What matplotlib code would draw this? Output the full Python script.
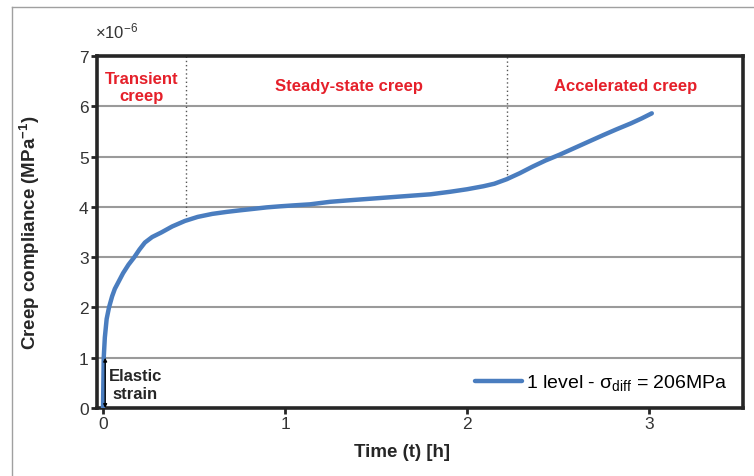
import matplotlib
matplotlib.use("Agg")
import matplotlib.pyplot as plt
from matplotlib.lines import Line2D

plt.rcParams['font.family'] = ['Liberation Sans', 'DejaVu Sans']
plt.rcParams['mathtext.fontset'] = 'custom'
plt.rcParams['mathtext.rm'] = 'Liberation Sans'
plt.rcParams['mathtext.it'] = 'Liberation Sans:italic'
plt.rcParams['mathtext.bf'] = 'Liberation Sans:bold'

# Creep compliance (x1e-6 MPa^-1) versus time (h)
time_h = [0.0, 0.004, 0.01, 0.02, 0.033, 0.05, 0.065, 0.084, 0.11, 0.14, 0.172,
          0.20, 0.23, 0.27, 0.32, 0.38, 0.45, 0.52, 0.60, 0.68,
          0.75, 0.826, 0.90, 0.97, 1.05, 1.137, 1.247, 1.35, 1.5, 1.65, 1.8,
          1.907, 2.0, 2.09, 2.15, 2.218, 2.29, 2.36, 2.43, 2.51, 2.59, 2.676,
          2.75, 2.82, 2.90, 2.96, 3.015]
compliance = [0.0, 1.0, 1.4, 1.77, 2.0, 2.22, 2.37, 2.5, 2.68, 2.85, 3.0,
              3.15, 3.29, 3.40, 3.49, 3.61, 3.72, 3.80, 3.86, 3.90,
              3.93, 3.96, 3.99, 4.01, 4.03, 4.05, 4.10, 4.13, 4.17, 4.21, 4.25,
              4.30, 4.35, 4.41, 4.46, 4.55, 4.67, 4.80, 4.92, 5.04, 5.17, 5.31,
              5.43, 5.54, 5.66, 5.76, 5.86]

stage_labels = ["Transient\ncreep", "Steady-state creep", "Accelerated creep"]
stage_label_x = [0.21, 1.35, 2.87]
stage_bounds = [0.456, 2.218]
stage_bound_c = [3.73, 4.55]

elastic_t = 0.012
elastic_c = 1.0

legend_label = r"1 level - $\mathrm{σ_{diff}}$ = 206MPa"

line_color = "#4a7dbf"
red = "#e5202a"
dark = "#262626"

fig = plt.figure(figsize=(7.54, 4.77), dpi=100)
ax = fig.add_axes([97 / 754, 68 / 477, 646 / 754, 352 / 477])

# light frame round the figure (left and top edges)
fig.add_artist(Line2D([12 / 754, 12 / 754], [0, 1 - 8 / 477], transform=fig.transFigure,
                      color="#a0a0a0", lw=1.0))
fig.add_artist(Line2D([12 / 754, 1], [1 - 8 / 477, 1 - 8 / 477], transform=fig.transFigure,
                      color="#a0a0a0", lw=1.0))

ax.set_xlim(-0.033, 3.516)
ax.set_ylim(0, 7)
ax.set_yticks(range(0, 8))
ax.set_xticks([0, 1, 2, 3])

for y in range(1, 7):
    ax.axhline(y, color="#9a9a9a", lw=1.5, zorder=1)

for tb, cb in zip(stage_bounds, stage_bound_c):
    ax.vlines(tb, cb, 7, colors="#555555", linestyles=(0, (1, 2)), lw=1.0, zorder=1)

ax.plot(time_h, compliance, color=line_color, lw=3.2, solid_capstyle="round",
        solid_joinstyle="round", label=legend_label, zorder=3)

ax.annotate("", xy=(elastic_t, elastic_c), xytext=(elastic_t, 0),
            arrowprops=dict(arrowstyle="<|-|>", color="black", lw=1.0,
                            mutation_scale=5, shrinkA=0, shrinkB=0), zorder=4)
ax.text(0.03, 0.47, "Elastic\nstrain", fontsize=12, fontweight="bold", color=dark,
        ha="left", va="center", linespacing=1.25, multialignment="center")

ax.text(stage_label_x[0], 6.38, stage_labels[0], fontsize=12, fontweight="bold",
        color=red, ha="center", va="center", linespacing=1.15)
ax.text(stage_label_x[1], 6.42, stage_labels[1], fontsize=12, fontweight="bold",
        color=red, ha="center", va="center")
ax.text(stage_label_x[2], 6.42, stage_labels[2], fontsize=12, fontweight="bold",
        color=red, ha="center", va="center")

for s in ax.spines.values():
    s.set_linewidth(2.6)
    s.set_color(dark)

ax.tick_params(axis="both", direction="out", length=4, width=2, color=dark,
               labelsize=12.5, labelcolor="#333333", pad=2)

ax.set_xlabel("Time (t) [h]", fontsize=13.5, fontweight="bold", color=dark)
ax.xaxis.set_label_coords((402 - 97) / 646, -0.1)
ax.set_ylabel("Creep compliance (MPa$^{\\mathbf{-1}}$)", fontsize=13.5, fontweight="bold",
              color=dark)
ax.yaxis.set_label_coords(-0.085, 0.5)

fig.text(95 / 754, 1 - 31 / 477, r"$\times$10$^{-6}$", fontsize=12, color="#333333",
         ha="left", va="center")

leg = ax.legend(loc="lower right", frameon=False, fontsize=14, handlelength=2.4,
                handletextpad=0.2, borderaxespad=0.4)

fig.savefig("out.png", dpi=100)
